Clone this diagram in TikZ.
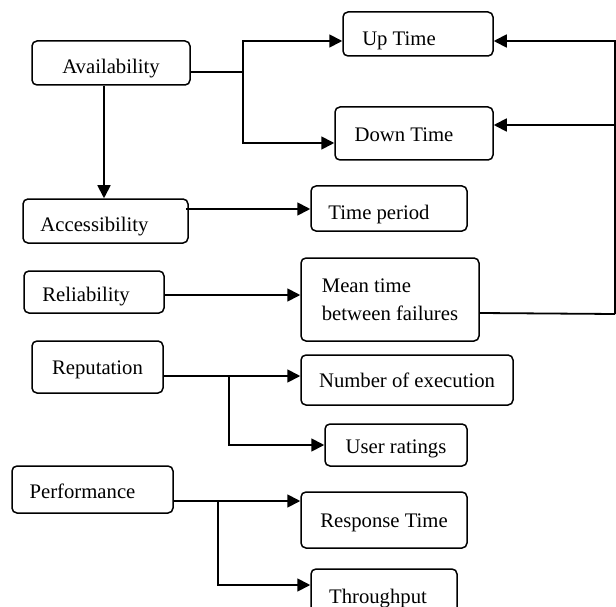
\documentclass[tikz,border=0pt]{standalone}
\usepackage{fontspec}
\setmainfont{Liberation Serif}
\usetikzlibrary{arrows.meta, positioning, calc}

\begin{document}
\begin{tikzpicture}[
    x=1pt, y=-1pt,
    font=\fontsize{20.7}{25}\selectfont,
    box/.style={draw, rounded corners=5pt, line width=1.5pt, inner sep=2pt},
    lbl/.style={text height=#1, text depth=4.5pt},
    lbl/.default=19.3pt,
    nudge/.style={execute at begin node={\hspace*{#1}}},
    conn/.style={line width=1.8pt},
    arrow/.style={-{Triangle[length=13pt, width=13pt]}, line width=1.8pt}
]
\useasboundingbox (0,0) rectangle (616,607);
\clip (0,0) rectangle (616,607);

% ================= Left (attributes) =================
\node[box, lbl=26.3pt, minimum width=158pt, minimum height=44pt] (avail) at (111,63) {Availability};
\node[box, lbl=26.3pt, nudge=-22pt, minimum width=165pt, minimum height=44pt] (access) at (105.5,221) {Accessibility};
\node[box, lbl=24.3pt, nudge=-16pt, minimum width=140pt, minimum height=42pt] (reliab) at (94,292) {Reliability};
\node[box, lbl=20.3pt, minimum width=131pt, minimum height=52pt] (reput) at (97.5,367) {Reputation};
\node[box, lbl=23.3pt, nudge=-20pt, minimum width=161pt, minimum height=47pt] (perf) at (92.5,489.5) {Performance};

% ================= Right (measures) =================
\node[box, lbl=27.3pt, nudge=-38pt, minimum width=150pt, minimum height=44pt] (uptime) at (418,34) {Up Time};
\node[box, lbl=21.3pt, nudge=-20pt, minimum width=158pt, minimum height=53pt] (downtime) at (414,133.5) {Down Time};
\node[box, lbl=26.3pt, nudge=-20pt, minimum width=156pt, minimum height=45pt] (timeper) at (389,208.5) {Time period};
\node[box, align=left, minimum width=178pt, minimum height=83pt] (mtbf) at (390,299.5) {Mean time\\[3pt]between failures};
\node[box, lbl, minimum width=212pt, minimum height=50pt] (numexec) at (407,380) {Number of execution};
\node[box, lbl=22.3pt, minimum width=142pt, minimum height=42pt] (userrat) at (396,445) {User ratings};
\node[box, lbl, minimum width=166pt, minimum height=56pt] (resp) at (384,520) {Response Time};
\node[box, lbl=22.3pt, nudge=-12pt, minimum width=146pt, minimum height=52pt] (thru) at (384,595) {Throughput};

% Branch points
\coordinate (abr) at ([xshift=52pt, yshift=-9pt]avail.east);
\coordinate (rbr) at ([xshift=65pt, yshift=-9pt]reput.east);
\coordinate (pbr) at ([xshift=44pt, yshift=-11.5pt]perf.east);
\coordinate (rail) at (615,314);

% Availability
\draw[conn] ([yshift=-9pt]avail.east) -- (abr);
\draw[arrow] (abr) |- ([yshift=-7pt]uptime.west);
\draw[arrow] (abr) |- ([yshift=-9.5pt]downtime.west);
\draw[arrow] ([xshift=-7pt]avail.south) -- ([xshift=-7pt]avail.south |- access.north);

% Accessibility, Reliability
\draw[arrow] ([xshift=-3pt, yshift=12pt]access.east) -- ([yshift=12pt]access.east -| timeper.west);
\draw[arrow] ([yshift=-3pt]reliab.east) -- ([yshift=-3pt]reliab.east -| mtbf.west);

% MTBF back to up/down time
\draw[conn] ([yshift=-13.5pt]mtbf.east) -- (rail);
\draw[arrow] (rail) |- ([yshift=-7pt]uptime.east);
\draw[arrow] (rail) |- ([yshift=8.5pt]downtime.east);

% Reputation
\draw[arrow] ([yshift=-9pt]reput.east) -- ([yshift=-9pt]reput.east -| numexec.west);
\draw[arrow] (rbr) |- (userrat.west);

% Performance
\draw[arrow] ([yshift=-11.5pt]perf.east) -- ([yshift=-11.5pt]perf.east -| resp.west);
\draw[arrow] (pbr) |- ([yshift=10pt]thru.west);

\end{tikzpicture}
\end{document}
